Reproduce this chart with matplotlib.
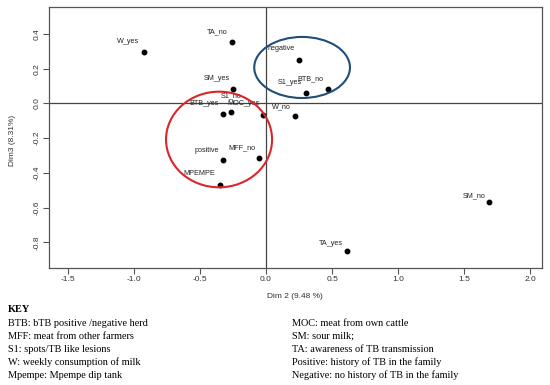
import matplotlib
matplotlib.use("Agg")
import matplotlib.pyplot as plt
from matplotlib.patches import Ellipse

# ---- data ----
labels = ["W_yes", "TA_no", "SM_yes", "S1_no", "BTB_yes", "MOC_yes", "W_no",
          "negative", "S1_yes", "BTB_no", "positive", "MFF_no", "MPEMPE",
          "SM_no", "TA_yes"]
dim2 = [-0.924, -0.260, -0.248, -0.267, -0.326, -0.020, 0.222,
        0.248, 0.303, 0.467, -0.326, -0.053, -0.351, 1.692, 0.611]
dim3 = [0.299, 0.356, 0.082, -0.051, -0.061, -0.068, -0.074,
        0.252, 0.059, 0.084, -0.327, -0.314, -0.468, -0.569, -0.852]

xticks = [-1.5, -1.0, -0.5, 0.0, 0.5, 1.0, 1.5, 2.0]
yticks = [-0.8, -0.6, -0.4, -0.2, 0.0, 0.2, 0.4]

key_left = ["BTB: bTB positive /negative herd", "MFF: meat from other farmers",
            "S1: spots/TB like lesions", "W: weekly consumption of milk",
            "Mpempe: Mpempe dip tank"]
key_right = ["MOC: meat from own cattle", "SM: sour milk;",
             "TA: awareness of TB transmission", "Positive: history of TB in the family",
             "Negative: no history of TB in the family"]

# label offsets in pixels (dx, dy up)
label_off = [(-16, 10), (-15, 10), (-17, 10.5), (0, 17), (-19, 10.5), (-20, 12),
             (-14, 10), (-18, 11.5), (-16, 10.5), (-17.5, 10.5), (-16, 10),
             (-17, 10.5), (-20, 11), (-15, 6.5), (-16, 7.5)]

fig = plt.figure(figsize=(5.5, 3.85), dpi=100)
ax = fig.add_axes([49/550, 1-268/385, 493/550, 261/385])
ax.set_xlim(-1.644, 2.09)
ax.set_ylim(-0.948, 0.556)

ax.axhline(0, color="#444444", lw=0.9, zorder=1)
ax.axvline(0, color="#444444", lw=0.9, zorder=1)

ax.plot(dim2, dim3, "o", color="black", ms=3.2, zorder=3)
for lab, x, y, (dx, dy) in zip(labels, dim2, dim3, label_off):
    ax.annotate(lab, (x, y), xytext=(dx*0.72, dy*0.72), textcoords="offset points",
                ha="center", va="center", fontsize=5.2, family="Liberation Sans",
                color="#222222", zorder=4)

ax.add_patch(Ellipse((-0.356, -0.2075), 0.803, 0.551, fill=False,
                     edgecolor="#d9262b", lw=1.5, zorder=5))
ax.add_patch(Ellipse((0.273, 0.2075), 0.725, 0.352, fill=False,
                     edgecolor="#1f4e79", lw=1.5, zorder=5))

ax.set_xticks(xticks)
ax.set_xticklabels([f"{t:.1f}" for t in xticks])
ax.set_yticks(yticks)
ax.set_yticklabels([f"{t:.1f}" for t in yticks], rotation=90, va="center")
ax.tick_params(direction="out", length=4, width=0.8, color="#555555",
               labelsize=6, labelcolor="#333333", pad=2)
for lab in ax.get_xticklabels() + ax.get_yticklabels():
    lab.set_family("Liberation Sans")
for s in ax.spines.values():
    s.set_color("#555555")
    s.set_linewidth(0.9)

fig.text(295/550, 1-296/385, "Dim 2 (9.48 %)", ha="center", va="center",
         fontsize=6, family="Liberation Sans", color="#333333")
fig.text(13/550, 1-140/385, "Dim3 (8.31%)", ha="center", va="center",
         rotation=90, fontsize=6, family="Liberation Sans", color="#333333")

fig.text(8/550, 1-309/385, "KEY", ha="left", va="center", fontsize=7.4,
         family="Liberation Serif", weight="bold")
ys = [323.3, 336.2, 349.1, 362, 375.3]
for t, py in zip(key_left, ys):
    fig.text(8/550, 1-py/385, t, ha="left", va="center", fontsize=7.4,
             family="Liberation Serif")
for t, py in zip(key_right, ys):
    fig.text(292/550, 1-py/385, t, ha="left", va="center", fontsize=7.4,
             family="Liberation Serif")

fig.savefig("out.png", dpi=100)
